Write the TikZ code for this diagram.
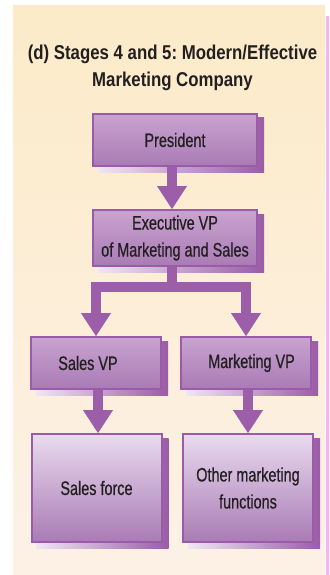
\documentclass[tikz,border=0pt]{standalone}
\usepackage{fontspec}
\setmainfont{Liberation Sans}
\newfontfamily\boxfont[FakeStretch=0.74,FakeBold=0.6]{Liberation Sans}
\newfontfamily\titlefont[FakeStretch=0.84]{Liberation Sans Bold}
\usetikzlibrary{arrows.meta,calc}
\pgfdeclarelayer{bg}
\pgfdeclarelayer{shadowlayer}
\pgfdeclarelayer{connlayer}
\pgfsetlayers{bg,shadowlayer,connlayer,main}
\frenchspacing

\definecolor{cream}{HTML}{FCEBC8}
\definecolor{creamlow}{HTML}{FDF1E7}
\definecolor{pinkstrip}{HTML}{F9B2F6}
\definecolor{boxedge}{HTML}{9B5BA8}
\definecolor{boxtop}{HTML}{C9A3D0}
\definecolor{boxbot}{HTML}{A97BB5}
\definecolor{lighttop}{HTML}{E9DBEF}
\definecolor{shadowdark}{HTML}{9A5CA6}
\definecolor{shadowlight}{HTML}{EFE6F4}
\definecolor{arrowfill}{HTML}{9C5EA9}
\definecolor{arrowshadow}{HTML}{CDB4DB}
\definecolor{textdark}{HTML}{231F20}

\tikzset{
  orgbox/.style={draw=boxedge, line width=2pt, top color=boxtop, bottom color=boxbot,
    text=textdark, font=\boxfont\fontsize{19.5}{27}\selectfont, align=center,
    inner sep=0pt, minimum width=130pt, minimum height=52pt},
  upperbox/.style={orgbox, minimum width=164pt},
  lowerbox/.style={orgbox, top color=lighttop, minimum height=108pt},
  conn/.style={draw=arrowfill, line width=10pt, line join=miter,
    -{Triangle[width=30pt,length=23pt,line width=0pt]}},
  connshadow/.style={conn, draw=arrowshadow},
  titletext/.style={text=textdark, font=\titlefont\fontsize{20}{27}\selectfont, align=center, inner sep=0pt}
}

\newcommand{\boxshadow}[1]{%
  \shade[left color=shadowlight, right color=shadowdark]
    ($(#1.south west)+(6,5)$) rectangle ($(#1.north east)+(6,5)$);}

\begin{document}
\begin{tikzpicture}[x=1pt,y=-1pt]
\useasboundingbox (0,0) rectangle (329,575);

\node[titletext] (title) at (172.5,68) {(d) Stages 4 and 5: Modern/Effective\\Marketing Company};

\node[upperbox] (pres) at (175,140) {President};
\node[upperbox, minimum height=56pt] (exec) at (175,238) {Executive VP\\of Marketing and Sales};
\node[orgbox] (sales) at (96,363) {\hspace*{-16pt}Sales VP};
\node[orgbox] (mkt) at (246,363) {Marketing VP\hspace*{-11pt}};
\node[lowerbox] (force) at (96.5,488) {Sales force};
\node[lowerbox] (other) at (248,488) {Other marketing\\functions};

\begin{pgfonlayer}{bg}
  \shade[top color=cream, bottom color=creamlow] (13,6) rectangle (325,575);
  \fill[pinkstrip] (325.7,16) rectangle (329,575);
\end{pgfonlayer}

\begin{pgfonlayer}{shadowlayer}
  \boxshadow{pres}
  \boxshadow{exec}
  \boxshadow{sales}
  \boxshadow{mkt}
  \boxshadow{force}
  \boxshadow{other}
  \begin{scope}[shift={(6,5)}]
    \draw[connshadow] ($(pres.south)+(-3,0)$) -- ($(exec.north)+(-3,0)$);
    \draw[connshadow] ($(exec.south)+(-3,0)$) -- ++(0,20) -| (sales.north);
    \draw[connshadow] ($(exec.south)+(-3,0)$) -- ++(0,20) -| (mkt.north);
    \draw[connshadow] ($(sales.south)+(2,0)$) -- ($(force.north)+(1.5,0)$);
    \draw[connshadow] ($(mkt.south)+(2,0)$) -- (other.north);
  \end{scope}
\end{pgfonlayer}

\begin{pgfonlayer}{connlayer}
  \draw[conn] ($(pres.south)+(-3,0)$) -- ($(exec.north)+(-3,0)$);
  \draw[conn] ($(exec.south)+(-3,0)$) -- ++(0,20) -| (sales.north);
  \draw[conn] ($(exec.south)+(-3,0)$) -- ++(0,20) -| (mkt.north);
  \draw[conn] ($(sales.south)+(2,0)$) -- ($(force.north)+(1.5,0)$);
  \draw[conn] ($(mkt.south)+(2,0)$) -- (other.north);
\end{pgfonlayer}
\end{tikzpicture}
\end{document}
